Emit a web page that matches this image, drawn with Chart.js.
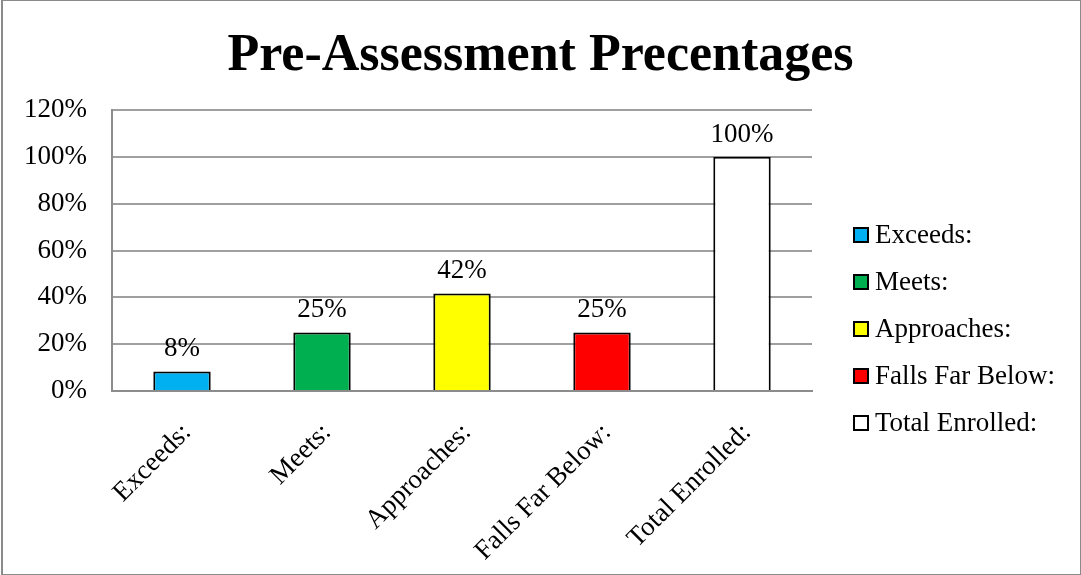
<!DOCTYPE html>
<html>
<head>
<meta charset="utf-8">
<script src="https://cdn.jsdelivr.net/npm/chart.js@4"></script>
<style>
  body { margin: 0; background: #fff; }
  #wrap { position: relative; width: 1081px; height: 575px; }
  #frame { position: absolute; left: 1px; top: 0; width: 1077px; height: 573px; border: 1px solid #8a8a8a; border-left-width: 2px; pointer-events: none; }
  #legend { position: absolute; left: 853px; top: 211px; font-family: "Liberation Serif", serif; font-size: 27px; color: #000; }
  .item { display: flex; align-items: center; height: 47px; }
  .box { width: 12px; height: 12px; border: 2px solid #000; margin-right: 6px; }
</style>
</head>
<body>
<div id="wrap">
  <canvas id="chart" width="1081" height="575"></canvas>
  <div id="legend"></div>
  <div id="frame"></div>
</div>
<script>
const categories = ["Exceeds:", "Meets:", "Approaches:", "Falls Far Below:", "Total Enrolled:"];
const values = [8.33, 25, 41.67, 25, 100];
const valueLabels = ["8%", "25%", "42%", "25%", "100%"];
const barColors = ["#00B0F0", "#00B050", "#FFFF00", "#FF0000", "#FFFFFF"];
const yTicks = [0, 20, 40, 60, 80, 100, 120];

Chart.defaults.font.family = "'Liberation Serif', serif";
Chart.defaults.color = "#000";

// value labels above each bar
const barLabels = {
    id: "barLabels",
    afterDatasetsDraw(chart) {
        const ctx = chart.ctx;
        const meta = chart.getDatasetMeta(0);
        ctx.save();
        ctx.font = "27px 'Liberation Serif'";
        ctx.fillStyle = "#000";
        ctx.textAlign = "center";
        ctx.textBaseline = "alphabetic";
        meta.data.forEach((bar, i) => {
            ctx.fillText(valueLabels[i], bar.x, bar.y - 15);
        });
        ctx.restore();
    }
};

new Chart(document.getElementById("chart"), {
    type: "bar",
    data: {
        labels: categories,
        datasets: [{
            data: values,
            backgroundColor: barColors,
            borderColor: "#000",
            borderWidth: 2,
            categoryPercentage: 1,
            barPercentage: 0.41
        }]
    },
    options: {
        responsive: false,
        animation: false,
        layout: { padding: 0 },
        plugins: {
            legend: { display: false },
            tooltip: { enabled: false },
            title: {
                display: true,
                text: "Pre-Assessment Precentages",
                font: { size: 52, weight: "bold", lineHeight: 1.2 },
                color: "#000",
                padding: { top: 25, bottom: 22.6 }
            }
        },
        scales: {
            x: {
                grid: { display: false, drawTicks: false },
                border: { color: "#8c8c8c", width: 2 },
                ticks: {
                    autoSkip: false,
                    minRotation: 45,
                    maxRotation: 45,
                    padding: 26,
                    labelOffset: 5,
                    font: { size: 27 }
                },
                afterFit(axis) {
                    axis.height = 184;
                    axis.paddingLeft = 0;
                    axis.paddingRight = 0;
                }
            },
            y: {
                min: 0,
                max: 120,
                afterBuildTicks(axis) {
                    axis.ticks = yTicks.map(v => ({ value: v }));
                },
                grid: { color: "#9f9f9f", lineWidth: 2, drawTicks: false },
                border: { color: "#8c8c8c", width: 2 },
                ticks: {
                    padding: 25,
                    font: { size: 27 },
                    callback: v => v + "%"
                },
                afterFit(axis) {
                    axis.width = 112;
                }
            },
            // empty right-hand axis that leaves room for the legend
            side: {
                position: "right",
                min: 0,
                max: 120,
                grid: { display: false, drawTicks: false },
                border: { display: false },
                ticks: { display: false },
                afterFit(axis) {
                    axis.width = 269;
                }
            }
        }
    },
    plugins: [barLabels]
});

// legend, one entry per category
const legend = document.getElementById("legend");
categories.forEach((name, i) => {
    const item = document.createElement("div");
    item.className = "item";
    item.innerHTML = `<span class="box" style="background:${barColors[i]}"></span><span>${name}</span>`;
    legend.appendChild(item);
});
</script>
</body>
</html>
